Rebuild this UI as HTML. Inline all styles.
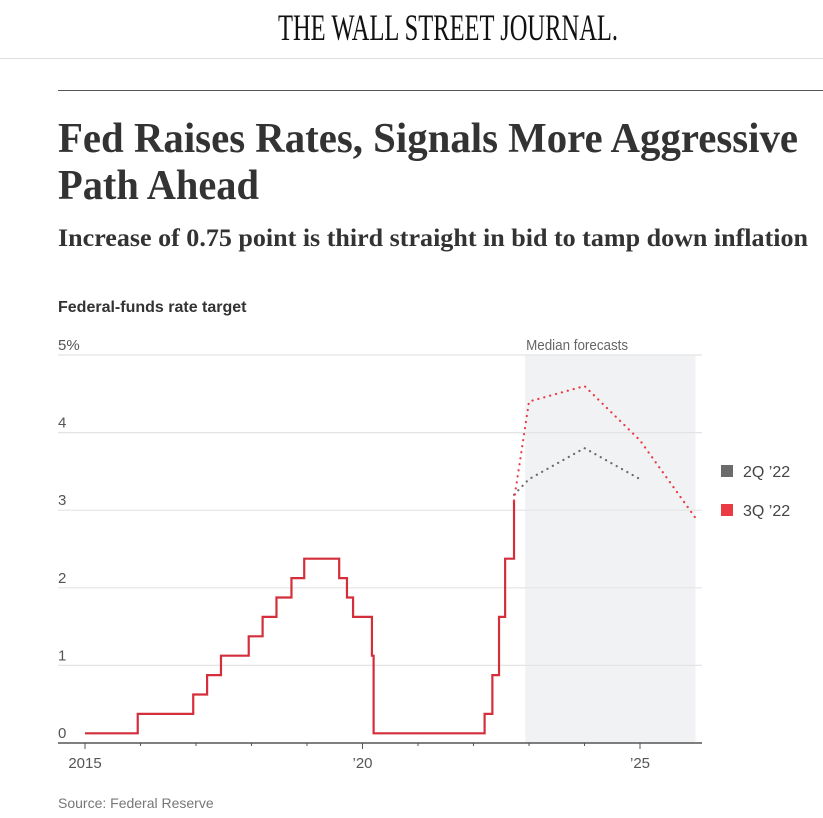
<!DOCTYPE html>
<html><head><meta charset="utf-8"><style>
html,body{margin:0;padding:0;background:#fff;}
svg{display:block;}
</style></head><body>
<svg id="chart" width="823" height="818" viewBox="0 0 823 818" xmlns="http://www.w3.org/2000/svg">
  <text x="448" y="40" text-anchor="middle" font-family="Liberation Serif, serif" font-size="37" textLength="340" lengthAdjust="spacingAndGlyphs" fill="#111">THE WALL STREET JOURNAL.</text>
  <line x1="0" y1="58.5" x2="823" y2="58.5" stroke="#ddd"/>
  <line x1="58" y1="90.5" x2="823" y2="90.5" stroke="#555"/>
  <text x="58" y="152" font-family="Liberation Serif, serif" font-weight="bold" font-size="42" textLength="740" lengthAdjust="spacingAndGlyphs" fill="#333">Fed Raises Rates, Signals More Aggressive</text>
  <text x="58" y="199" font-family="Liberation Serif, serif" font-weight="bold" font-size="42" textLength="201" lengthAdjust="spacingAndGlyphs" fill="#333">Path Ahead</text>
  <text x="58" y="246" font-family="Liberation Serif, serif" font-weight="bold" font-size="25" textLength="750" lengthAdjust="spacingAndGlyphs" fill="#333">Increase of 0.75 point is third straight in bid to tamp down inflation</text>
  <text x="58" y="312" font-family="Liberation Sans, sans-serif" font-weight="bold" font-size="16" fill="#333">Federal-funds rate target</text>
  <g id="plot"></g>
  <text x="58" y="808" font-family="Liberation Sans, sans-serif" font-size="14" fill="#777">Source: Federal Reserve</text>
</svg>
<script>
const yTicks = [0, 1, 2, 3, 4, 5];
const yTickLabels = ['0', '1', '2', '3', '4', '5%'];
const xTickYears = [2015, 2020, 2025];
const xTickLabels = ['2015', '\u201920', '\u201925'];
const minorYears = [2016, 2017, 2018, 2019, 2021, 2022, 2023, 2024];
const stepDates = [2015.0, 2015.95, 2016.95, 2017.2, 2017.45, 2017.95, 2018.2, 2018.45, 2018.72, 2018.95, 2019.58, 2019.72, 2019.83, 2020.17, 2020.2, 2022.2, 2022.34, 2022.46, 2022.57, 2022.73];
const stepRates = [0.125, 0.375, 0.625, 0.875, 1.125, 1.375, 1.625, 1.875, 2.125, 2.375, 2.125, 1.875, 1.625, 1.125, 0.125, 0.375, 0.875, 1.625, 2.375, 3.125];
const forecastDates3Q = [2022.73, 2023.0, 2024.0, 2025.0, 2026.0];
const forecastRates3Q = [3.125, 4.4, 4.6, 3.9, 2.9];
const forecastDates2Q = [2022.73, 2023.0, 2024.0, 2025.0];
const forecastRates2Q = [3.2, 3.4, 3.8, 3.4];
const forecastStart = 2022.93;
const forecastEnd = 2026.0;
const legendLabels = ['2Q \u201922', '3Q \u201922'];

const NS = 'http://www.w3.org/2000/svg';
const plot = document.getElementById('plot');
const X0 = 85, PX_PER_YEAR = 55.5, Y0 = 743, PX_PER_PCT = 77.6;
const xs = t => X0 + (t - 2015) * PX_PER_YEAR;
const ys = v => Y0 - v * PX_PER_PCT;
function mk(tag, attrs) {
  const e = document.createElementNS(NS, tag);
  for (const k in attrs) e.setAttribute(k, attrs[k]);
  plot.appendChild(e);
  return e;
}

let r = mk('rect', {x: xs(forecastStart), y: ys(5), width: xs(forecastEnd) - xs(forecastStart), height: Y0 - ys(5), fill: '#f1f2f4'});


let ft = mk('text', {x: xs(forecastStart) + 1, y: ys(5) - 5, 'font-family': 'Liberation Sans, sans-serif', 'font-size': 15, fill: '#666', textLength: 102, lengthAdjust: 'spacingAndGlyphs'});
ft.textContent = 'Median forecasts';



yTicks.forEach((v, i) => {
  if (v > 0) {
    const g = mk('line', {x1: 58, x2: 702, y1: ys(v), y2: ys(v), stroke: '#e4e4e4', 'stroke-width': 1.2});
    
    
  }
  const t = mk('text', {x: 58, y: ys(v) - 5, 'font-family': 'Liberation Sans, sans-serif', 'font-size': 15, fill: '#555'});
  t.textContent = yTickLabels[i];
  
  
});

let ax = mk('line', {x1: 58, x2: 702, y1: Y0, y2: Y0, stroke: '#555', 'stroke-width': 1.5});


minorYears.forEach(yr => {
  const tk = mk('line', {x1: xs(yr), x2: xs(yr), y1: Y0, y2: Y0 + 3, stroke: '#555'});
  
  
});
xTickYears.forEach((yr, i) => {
  const tk = mk('line', {x1: xs(yr), x2: xs(yr), y1: Y0, y2: Y0 + 6, stroke: '#555'});
  
  
  const t = mk('text', {x: xs(yr), y: Y0 + 25, 'text-anchor': 'middle', 'font-family': 'Liberation Sans, sans-serif', 'font-size': 15, fill: '#555'});
  t.textContent = xTickLabels[i];
  
  
});

let d = '';
stepDates.forEach((t, i) => {
  if (i === 0) d += 'M' + xs(t) + ',' + ys(stepRates[i]);
  else d += 'L' + xs(t) + ',' + ys(stepRates[i - 1]) + 'L' + xs(t) + ',' + ys(stepRates[i]);
});
let sp = mk('path', {d: d, fill: 'none', stroke: '#d42e3b', 'stroke-width': 2.2});



function dotted(dates, vals, color, name) {
  const pd = dates.map((t, i) => (i ? 'L' : 'M') + xs(t) + ',' + ys(vals[i])).join('');
  const p = mk('path', {d: pd, fill: 'none', stroke: color, 'stroke-width': 2.2, 'stroke-dasharray': '0.1 6', 'stroke-linecap': 'round'});
  
  
}
dotted(forecastDates2Q, forecastRates2Q, '#6b6b6b', 'forecast-2q22-line');
dotted(forecastDates3Q, forecastRates3Q, '#ec3a45', 'forecast-3q22-line');

const legendColors = ['#6b6b6b', '#ec3a45'];
const legendY = [471, 510];
legendLabels.forEach((lab, i) => {
  const sq = mk('rect', {x: 721, y: legendY[i] - 6, width: 12, height: 12, fill: legendColors[i]});
  
  
  const t = mk('text', {x: 743, y: legendY[i] + 6, 'font-family': 'Liberation Sans, sans-serif', 'font-size': 16, fill: '#444'});
  t.textContent = lab;
  
  
});
</script>
</body></html>
